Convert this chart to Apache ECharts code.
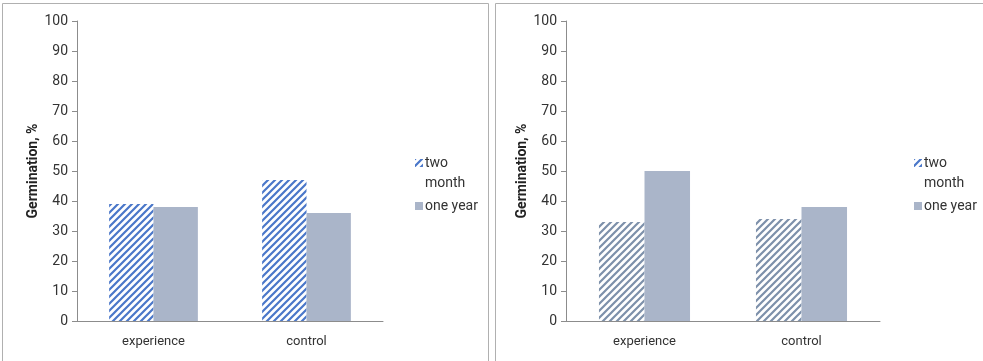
<!DOCTYPE html>
<html>
<head>
<meta charset="utf-8">
<script src="https://cdn.jsdelivr.net/npm/echarts@6/dist/echarts.min.js"></script>
<style>
html,body{margin:0;padding:0;background:#fff;}
#chart{width:983px;height:361px;}
</style>
</head>
<body>
<div id="chart"></div>
<script>
// Germination data for the two panels
const categories = ['experience', 'control'];
const seriesNames = ['two month', 'one year'];
const leftTwoMonth = [39, 47];
const leftOneYear = [38, 36];
const rightTwoMonth = [33, 34];
const rightOneYear = [50, 38];
const yTicks = [0, 10, 20, 30, 40, 50, 60, 70, 80, 90, 100];
const yAxisTitle = 'Germination, %';

// Diagonal hatch tile used to fill the "two month" bars
function hatch(color) {
  const s = 7;
  const c = document.createElement('canvas');
  c.width = s; c.height = s;
  const g = c.getContext('2d');
  g.fillStyle = '#ffffff';
  g.fillRect(0, 0, s, s);
  g.strokeStyle = color;
  g.lineWidth = 2.2;
  g.lineCap = 'square';
  g.beginPath();
  g.moveTo(-1, s + 1); g.lineTo(s + 1, -1);
  g.moveTo(-1, 1); g.lineTo(1, -1);
  g.moveTo(s - 1, s + 1); g.lineTo(s + 1, s - 1);
  g.stroke();
  return { image: c, repeat: 'repeat' };
}

const font = 'Roboto, "Liberation Sans", sans-serif';
const axisColor = '#8c8c8c';
const textColor = '#333333';
const solidColor = '#aab5c9';

function xAxis(gridIndex) {
  return {
    type: 'category', gridIndex, data: categories,
    axisLine: { lineStyle: { color: axisColor } },
    axisTick: { alignWithLabel: true, length: 5, lineStyle: { color: axisColor } },
    axisLabel: { color: textColor, fontFamily: font, fontSize: 13, margin: 14 }
  };
}
function yAxis(gridIndex) {
  return {
    type: 'value', gridIndex,
    min: yTicks[0], max: yTicks[yTicks.length - 1], interval: yTicks[1] - yTicks[0],
    name: yAxisTitle, nameLocation: 'middle', nameGap: 31,
    nameTextStyle: { fontFamily: font, fontWeight: 'bold', fontSize: 14, color: '#222' },
    axisLine: { show: true, lineStyle: { color: axisColor } },
    axisTick: { show: true, length: 5, lineStyle: { color: axisColor } },
    axisLabel: { color: textColor, fontFamily: font, fontSize: 14, margin: 9 },
    splitLine: { show: false }
  };
}
function legend(left) {
  return {
    orient: 'vertical', left, top: 151, itemWidth: 8, itemHeight: 8, itemGap: 29,
    icon: 'rect', data: seriesNames,
    formatter: n => n === seriesNames[0] ? 'two' : n,
    textStyle: { fontFamily: font, fontSize: 14, color: textColor, padding: [0, 0, 0, -3] }
  };
}

const chart = echarts.init(document.getElementById('chart'), null, { renderer: 'canvas' });
const leftHatch = hatch('#4a77c9');
const rightHatch = hatch('#7d90aa');

chart.setOption({
  animation: false,
  backgroundColor: '#ffffff',
  grid: [
    { left: 77, top: 21, width: 306, height: 300 },
    { left: 566, top: 21, width: 314, height: 300 }
  ],
  xAxis: [xAxis(0), xAxis(1)],
  yAxis: [yAxis(0), yAxis(1)],
  legend: [legend(410), legend(909)],
  graphic: [
    { type: 'rect', shape: { x: 2.5, y: 3.5, width: 486, height: 370 }, style: { fill: 'none', stroke: '#b0b0b0', lineWidth: 1 }, silent: true },
    { type: 'rect', shape: { x: 495.5, y: 3.5, width: 500, height: 370 }, style: { fill: 'none', stroke: '#b0b0b0', lineWidth: 1 }, silent: true },
    { type: 'text', left: 425, top: 176, style: { text: 'month', font: '14px ' + font, fill: textColor } },
    { type: 'text', left: 924, top: 176, style: { text: 'month', font: '14px ' + font, fill: textColor } }
  ],
  series: [
    { name: seriesNames[0], type: 'bar', xAxisIndex: 0, yAxisIndex: 0, data: leftTwoMonth,
      barGap: '0%', barCategoryGap: '42%', itemStyle: { color: leftHatch } },
    { name: seriesNames[1], type: 'bar', xAxisIndex: 0, yAxisIndex: 0, data: leftOneYear,
      barGap: '0%', barCategoryGap: '42%', itemStyle: { color: solidColor } },
    { name: seriesNames[0], type: 'bar', xAxisIndex: 1, yAxisIndex: 1, data: rightTwoMonth,
      barGap: '0%', barCategoryGap: '42%', itemStyle: { color: rightHatch } },
    { name: seriesNames[1], type: 'bar', xAxisIndex: 1, yAxisIndex: 1, data: rightOneYear,
      barGap: '0%', barCategoryGap: '42%', itemStyle: { color: solidColor } }
  ]
});
</script>
</body>
</html>
